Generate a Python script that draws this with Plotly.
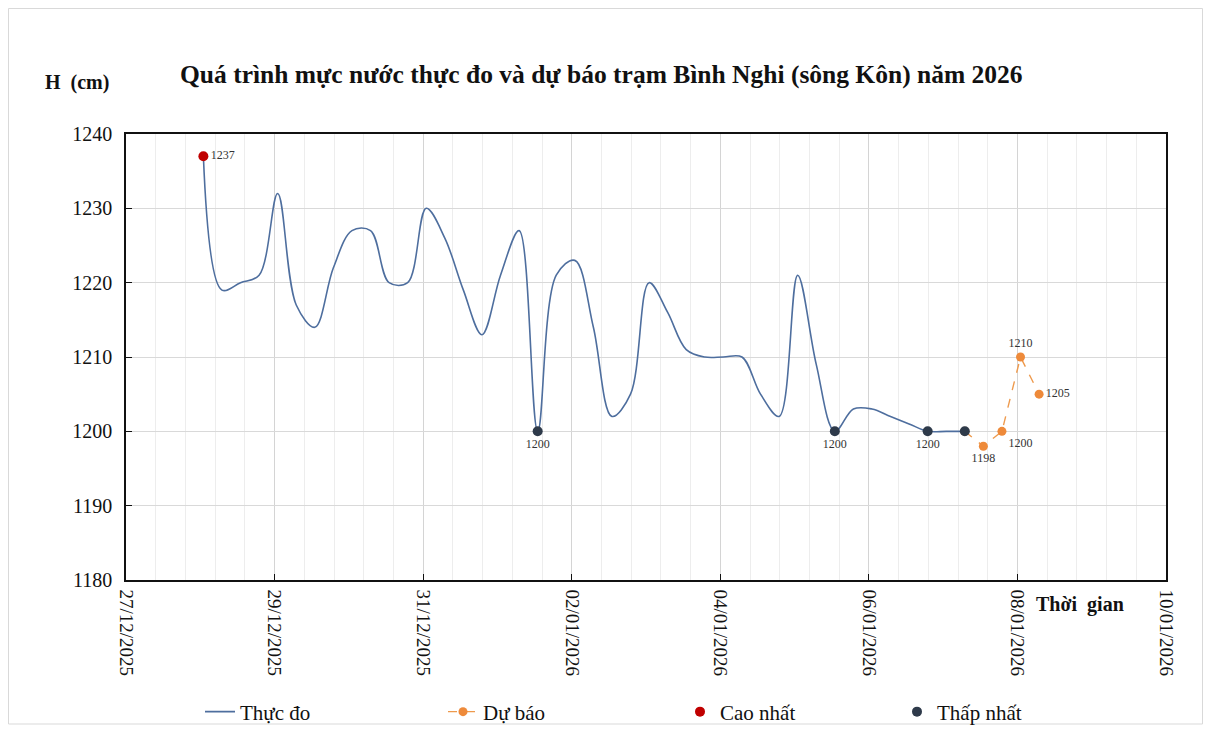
import pandas as pd
import plotly.graph_objects as go

# ---- data (6-hourly observations, 28/12/2025 01h -> 07/01/2026 07h) ----
obs_start = "2025-12-28 01:00"
obs_values = [1237, 1219, 1220, 1221, 1232, 1217, 1214, 1222, 1227, 1227,
              1220, 1220, 1230, 1226, 1219, 1213, 1221, 1227, 1200, 1221,
              1223, 1214, 1202, 1205, 1220, 1216, 1211, 1210, 1210, 1210,
              1205, 1202, 1221, 1209, 1200, 1203, 1203, 1202, 1201, 1200,
              1200, 1200]
obs_times = pd.date_range(obs_start, periods=len(obs_values), freq="6h")

fc_times = ["2026-01-07 07:00", "2026-01-07 13:00", "2026-01-07 19:00",
            "2026-01-08 01:00", "2026-01-08 07:00"]
fc_values = [1200, 1198, 1200, 1210, 1205]
fc_labels = ["", "1198", "1200", "1210", "1205"]

max_times = ["2025-12-28 01:00"]
max_values = [1237]
max_labels = ["1237"]

min_times = ["2026-01-01 13:00", "2026-01-05 13:00", "2026-01-06 19:00", "2026-01-07 07:00"]
min_values = [1200, 1200, 1200, 1200]
min_labels = ["1200", "1200", "1200", ""]

title_text = "Quá trình mực nước thực đo và dự báo trạm Bình Nghi (sông Kôn) năm 2026"
series_names = ["Thực đo", "Dự báo", "Cao nhất", "Thấp nhất"]

SERIF = "Liberation Serif, Times New Roman, serif"

# page body has an 8px margin: work in reference pixel coords shifted by 8
OFF = 8
W, H = 1195, 717
L, T = 126 - OFF, 134 - OFF
pw, ph = 1040, 446
R = W - L - pw
B = H - T - ph


def px_x(p):
    return (p - OFF - L) / pw


def px_y(p):
    return (H - B - (p - OFF)) / ph


fig = go.Figure()
fig.add_trace(go.Scatter(
    x=obs_times, y=obs_values, name=series_names[0], mode="lines",
    line=dict(color="#4E6E9E", width=1.6, shape="spline", smoothing=1.0),
    legend="legend",
))
fig.add_trace(go.Scatter(
    x=fc_times, y=fc_values, name=series_names[1], mode="lines+markers+text",
    line=dict(color="#EE9A4D", width=1.4, dash="dash"),
    marker=dict(color="#EE8A3A", size=9),
    text=fc_labels,
    textposition=["bottom center", "bottom center", "bottom right", "top center", "middle right"],
    textfont=dict(family=SERIF, size=12, color="#333"),
    legend="legend2",
))
fig.add_trace(go.Scatter(
    x=max_times, y=max_values, name=series_names[2], mode="markers+text",
    marker=dict(color="#C00000", size=10),
    text=max_labels, textposition="middle right",
    textfont=dict(family=SERIF, size=12, color="#333"),
    legend="legend3",
))
fig.add_trace(go.Scatter(
    x=min_times, y=min_values, name=series_names[3], mode="markers+text",
    marker=dict(color="#2E3A4A", size=10),
    text=min_labels, textposition="bottom center",
    textfont=dict(family=SERIF, size=12, color="#333"),
    legend="legend4",
))

leg_font = dict(family=SERIF, size=21, color="#111")


def leg(xpx):
    return dict(orientation="h", x=px_x(xpx), y=px_y(712), xanchor="left",
                yanchor="middle", font=leg_font, bgcolor="rgba(0,0,0,0)")


fig.update_layout(
    width=W, height=H,
    margin=dict(l=L, r=R, t=T, b=B, autoexpand=False),
    paper_bgcolor="white", plot_bgcolor="white",
    font=dict(family=SERIF, color="#111"),
    showlegend=True,
    legend=leg(200), legend2=leg(443), legend3=leg(680), legend4=leg(897),
    annotations=[
        dict(text="<b>" + title_text + "</b>", xref="paper", yref="paper",
             x=px_x(601), y=px_y(75), xanchor="center", yanchor="middle",
             showarrow=False, font=dict(family=SERIF, size=25.5, color="#111")),
        dict(text="<b>H  (cm)</b>", xref="paper", yref="paper",
             x=px_x(43), y=px_y(82), xanchor="left", yanchor="middle",
             showarrow=False, font=dict(family=SERIF, size=20, color="#111")),
        dict(text="<b>Thời  gian</b>", xref="paper", yref="paper",
             x=px_x(1034), y=px_y(604), xanchor="left", yanchor="middle",
             showarrow=False, font=dict(family=SERIF, size=20, color="#111")),
    ],
    shapes=[
        dict(type="rect", xref="paper", yref="paper",
             x0=px_x(8.5), x1=px_x(1202.5), y0=px_y(724), y1=px_y(8.5),
             line=dict(color="#D9D9D9", width=1), layer="below"),
    ],
)

fig.update_xaxes(
    type="date", range=["2025-12-27", "2026-01-10"],
    tick0="2025-12-27", dtick=2 * 86400000, tickformat="%d/%m/%Y",
    tickangle=90, tickfont=dict(family=SERIF, size=19, color="#111"),
    showgrid=True, gridcolor="#D4D4D4", gridwidth=1,
    minor=dict(dtick=int(0.4 * 86400000), tick0="2025-12-27", showgrid=True,
               gridcolor="#EDEDED", gridwidth=1),
    showline=True, linecolor="#111", linewidth=1.5, mirror=True,
    ticks="inside", ticklen=6, tickcolor="#111",
    ticklabelstandoff=4, automargin=False,
    zeroline=False,
)
fig.update_yaxes(
    range=[1180, 1240], dtick=10,
    tickfont=dict(family=SERIF, size=20, color="#111"),
    showgrid=True, gridcolor="#D9D9D9", gridwidth=1,
    showline=True, linecolor="#111", linewidth=1.5, mirror=True,
    ticks="inside", ticklen=6, tickcolor="#111",
    ticklabelstandoff=8, automargin=False, zeroline=False,
)

fig.write_html("out.html")
